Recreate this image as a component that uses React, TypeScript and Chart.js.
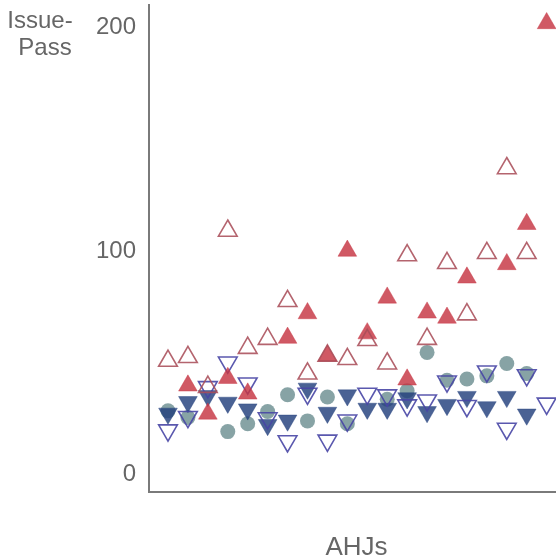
import { useEffect, useRef } from "react";
import { Chart, registerables } from "chart.js";

Chart.register(...registerables);

// One column per AHJ (jurisdiction), left to right
const ahjIndex = [0, 1, 2, 3, 4, 5, 6, 7, 8, 9, 10, 11, 12, 13, 14, 15, 16, 17, 18, 19];

// Issue-to-pass values per AHJ for each marker group
const redOpenUp = [50.7, 52.4, 39, 109, 56.5, 60.5, 77.5, 45, 53, 51.5, 60, 49.5, 98, 60.5, 94.5, 71.5, 99, 137, 99, null];
const redFilledUp = [null, 39.6, 27, 43, 36, null, 61, 72, 53, 100, 63, 79, 42.3, 72.3, 70, 88, null, 94, 112, 202];
const blueOpenDown = [19.6, 25.6, 39, 50, 40.6, 25, 14.7, 36, 15, 24, 36, 35.3, 30.8, 33, 41.5, 30.5, 46, 20.3, 44.3, 31.6];
const blueFilledDown = [27.1, 32.3, 35, 32, 29, 22, 24, 38.3, 27.5, 35.3, 29.3, 29.3, 34, 27.8, 31, 34.6, 30, 34.6, 26.7, null];
const tealDots = [28.3, 25.3, null, 19, 22.5, 28, 35.5, 23.8, 34.5, 22.5, null, 33.5, 37.3, 54.5, 42, 42.6, 44, 49.5, 45, null];

const yTicks = [0, 100, 200];

const FONT = "'Liberation Sans', Arial, Helvetica, sans-serif";
const TEXT = "#666666";
const AXIS = "#7a7a7a";

const toPoints = (vals: (number | null)[]) =>
  ahjIndex.map((x, i) => ({ x, y: vals[i] }));

const axisTitles = {
  id: "axisTitles",
  afterDraw(chart: any) {
    const { ctx, chartArea } = chart;
    ctx.save();
    ctx.fillStyle = TEXT;
    ctx.textBaseline = "alphabetic";
    ctx.textAlign = "center";
    ctx.font = `24px ${FONT}`;
    ctx.fillText("Issue-", chartArea.left - 109, chartArea.top + 23);
    ctx.fillText("Pass", chartArea.left - 104, chartArea.top + 50);
    ctx.font = `26px ${FONT}`;
    ctx.fillText("AHJs", (chartArea.left + chartArea.right) / 2 + 4, chartArea.bottom + 63);
    ctx.restore();
  },
};

export default function App() {
  const canvasRef = useRef<HTMLCanvasElement | null>(null);

  useEffect(() => {
    const canvas = canvasRef.current;
    if (!canvas) return;

    const chart = new Chart(canvas, {
      type: "scatter",
      data: {
        datasets: [
          {
            label: "open up",
            data: toPoints(redOpenUp),
            pointStyle: "triangle",
            pointRadius: 10.8,
            pointBackgroundColor: "rgba(0,0,0,0)",
            pointBorderColor: "rgba(170, 78, 90, 0.88)",
            pointBorderWidth: 1.6,
            clip: false,
          },
          {
            label: "filled up",
            data: toPoints(redFilledUp),
            pointStyle: "triangle",
            pointRadius: 10.8,
            pointBackgroundColor: "rgba(198, 52, 66, 0.82)",
            pointBorderColor: "rgba(198, 52, 66, 0.82)",
            pointBorderWidth: 0.5,
            clip: false,
          },
          {
            label: "open down",
            data: toPoints(blueOpenDown),
            pointStyle: "triangle",
            rotation: 180,
            pointRadius: 10.8,
            pointBackgroundColor: "rgba(0,0,0,0)",
            pointBorderColor: "rgba(72, 70, 165, 0.9)",
            pointBorderWidth: 1.6,
            clip: false,
          },
          {
            label: "filled down",
            data: toPoints(blueFilledDown),
            pointStyle: "triangle",
            rotation: 180,
            pointRadius: 10.8,
            pointBackgroundColor: "rgba(34, 64, 124, 0.82)",
            pointBorderColor: "rgba(34, 64, 124, 0.82)",
            pointBorderWidth: 0.5,
            clip: false,
          },
          {
            label: "dots",
            data: toPoints(tealDots),
            pointStyle: "circle",
            pointRadius: 7.5,
            pointBackgroundColor: "rgba(105, 140, 142, 0.8)",
            pointBorderColor: "rgba(105, 140, 142, 0)",
            pointBorderWidth: 0,
            clip: false,
          },
        ],
      },
      options: {
        animation: false,
        responsive: false,
        devicePixelRatio: 1,
        layout: { autoPadding: false, padding: { top: 5, right: 0, bottom: 0, left: 0 } },
        plugins: {
          legend: { display: false },
          tooltip: { enabled: false },
        },
        scales: {
          x: {
            type: "linear",
            min: -0.953,
            max: 19.47,
            grid: { display: false, drawTicks: false },
            border: { display: true, color: AXIS, width: 2 },
            ticks: { display: false },
            afterFit: (scale: any) => {
              scale.height = 68;
              scale.paddingLeft = 0;
              scale.paddingRight = 0;
            },
          },
          y: {
            type: "linear",
            min: -8.07,
            max: 210.2,
            grid: { display: false, drawTicks: false },
            border: { display: true, color: AXIS, width: 2 },
            ticks: {
              color: TEXT,
              padding: 13,
              font: { family: FONT, size: 24 },
            },
            afterBuildTicks: (scale: any) => {
              scale.ticks = yTicks.map((value) => ({ value }));
            },
            afterFit: (scale: any) => {
              scale.width = 149;
              scale.paddingTop = 0;
              scale.paddingBottom = 0;
            },
          },
        },
      },
      plugins: [axisTitles],
    });

    return () => chart.destroy();
  }, []);

  return (
    <div style={{ position: "fixed", left: 0, top: 0, width: 556, height: 560, background: "#ffffff" }}>
      <canvas ref={canvasRef} width={556} height={560} style={{ display: "block" }} />
    </div>
  );
}
